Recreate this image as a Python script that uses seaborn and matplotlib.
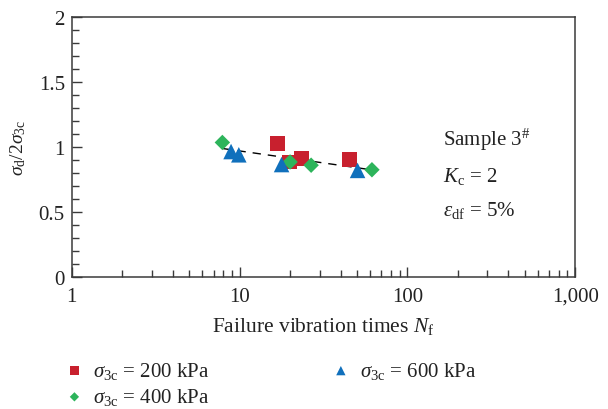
import numpy as np
import pandas as pd
import matplotlib
matplotlib.use("Agg")
import matplotlib.pyplot as plt
import matplotlib.ticker as mticker
import seaborn as sns

# ---- data ----
n_200 = [16.8, 19.8, 23.5, 45.0]
y_200 = [1.03, 0.885, 0.91, 0.905]
n_400 = [7.9, 20.0, 26.7, 61.5]
y_400 = [1.035, 0.885, 0.86, 0.825]
n_600 = [8.9, 9.9, 17.8, 50.5]
y_600 = [0.965, 0.94, 0.865, 0.82]
series_labels = [r"$\sigma_{\mathrm{3c}}$ = 200 kPa",
                 r"$\sigma_{\mathrm{3c}}$ = 400 kPa",
                 r"$\sigma_{\mathrm{3c}}$ = 600 kPa"]
x_ticks = [1, 10, 100, 1000]
x_ticklabels = ["1", "10", "100", "1,000"]
y_ticks = [0, 0.5, 1, 1.5, 2]
y_ticklabels = ["0", "0.5", "1", "1.5", "2"]

colors = ["#C8202E", "#2DB45B", "#1070BC"]
markers = ["s", "D", "^"]
msizes = [115, 62, 125]

sns.set_theme(style="ticks")
plt.rcParams["font.family"] = ["Liberation Serif", "DejaVu Serif"]
plt.rcParams["mathtext.fontset"] = "custom"
plt.rcParams["mathtext.rm"] = "Liberation Serif"
plt.rcParams["mathtext.it"] = "Liberation Serif:italic"
plt.rcParams["mathtext.bf"] = "Liberation Serif:bold"

FS = 15
TXT = "#222222"

fig = plt.figure(figsize=(6.08, 4.10), dpi=100)
ax = fig.add_axes([0.118, 0.322, 0.828, 0.634])

groups = [(n_200, y_200), (n_400, y_400), (n_600, y_600)]
frames = []
for (xs, ys), lab in zip(groups, series_labels):
    frames.append(pd.DataFrame({"N": xs, "ratio": ys, "series": lab}))
df = pd.concat(frames, ignore_index=True)

# fitted trend line through all points (y ~ log x)
sns.regplot(data=df, x="N", y="ratio", logx=True, scatter=False, ci=None,
            ax=ax, line_kws=dict(color="black", lw=1.0, ls=(0, (6, 5))))

for i, lab in enumerate(series_labels):
    sub = df[df["series"] == lab]
    sns.scatterplot(data=sub, x="N", y="ratio", ax=ax, color=colors[i],
                    marker=markers[i], s=msizes[i], edgecolor="none",
                    label=lab, zorder=3)

ax.set_xscale("log")
ax.set_xlim(1, 1000)
ax.set_ylim(0, 2)
ax.set_xticks(x_ticks)
ax.xaxis.set_major_formatter(mticker.FixedFormatter(x_ticklabels))
ax.xaxis.set_minor_locator(mticker.LogLocator(base=10, subs=np.arange(2, 10)))
ax.xaxis.set_minor_formatter(mticker.NullFormatter())
ax.set_yticks(y_ticks)
ax.set_yticklabels(y_ticklabels)
ax.yaxis.set_minor_locator(mticker.MultipleLocator(0.1))

for sp in ax.spines.values():
    sp.set_color("#3a3a3a")
    sp.set_linewidth(1.1)
ax.tick_params(which="both", direction="in", top=False, right=False,
               color="#3a3a3a", width=1.0, labelsize=FS, colors=TXT)
ax.tick_params(which="major", length=7, pad=5)
ax.tick_params(axis="x", which="major", pad=7)
ax.tick_params(which="minor", length=5)

ax.set_xlabel(r"Failure vibration times $N_{\mathrm{f}}$", fontsize=15.5,
              color=TXT, labelpad=7)
ax.set_ylabel(r"$\sigma_{\mathrm{d}}/2\sigma_{\mathrm{3c}}$", fontsize=14,
              color=TXT, labelpad=8)

tx = 0.737
ax.text(tx, 0.53, r"Sample 3$^{\#}$", transform=ax.transAxes, fontsize=FS,
        color=TXT, va="center")
ax.text(tx, 0.39, r"$K_{\mathrm{c}}$ = 2", transform=ax.transAxes, fontsize=FS,
        color=TXT, va="center")
ax.text(tx, 0.26, r"$\varepsilon_{\mathrm{df}}$ = 5%", transform=ax.transAxes,
        fontsize=FS, color=TXT, va="center")

leg = ax.legend(loc="upper left", bbox_to_anchor=(0.071, 0.165),
                bbox_transform=fig.transFigure, ncol=2, frameon=False,
                fontsize=FS, markerscale=0.6, handletextpad=0.3,
                columnspacing=5.7, labelspacing=0.25, handlelength=1.2)
for t in leg.get_texts():
    t.set_color(TXT)

fig.savefig("out.png", dpi=100)
